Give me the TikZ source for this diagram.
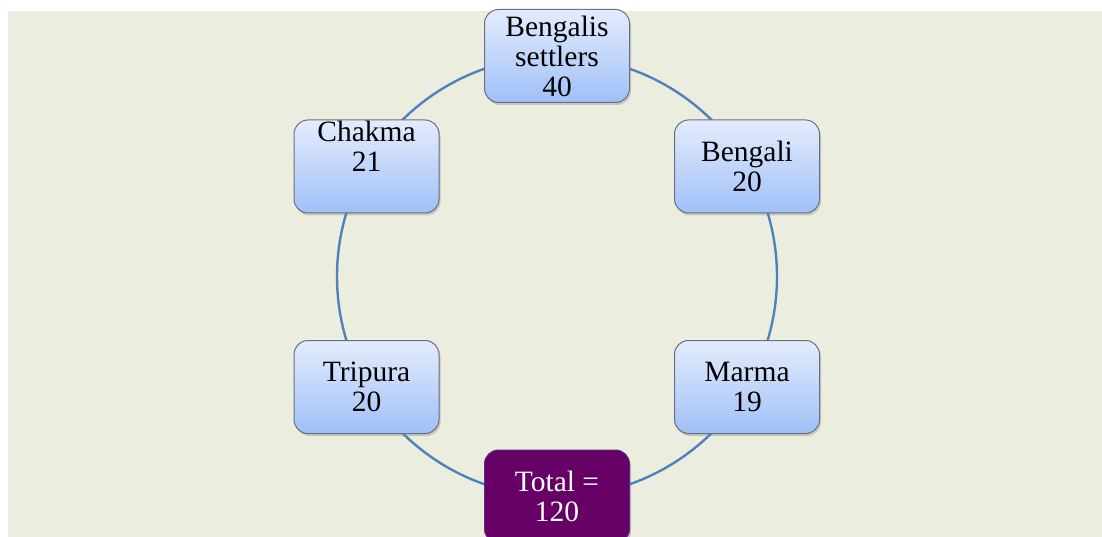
\documentclass[tikz,border=0pt]{standalone}
\usepackage{fontspec}
\setmainfont{Liberation Serif}
\usetikzlibrary{shadows}
\definecolor{backdrop}{RGB}{235, 238, 223}
\definecolor{ring}{RGB}{79, 129, 189}
\definecolor{boxtop}{RGB}{228, 236, 252}
\definecolor{boxbottom}{RGB}{160, 192, 248}
\definecolor{boxedge}{RGB}{105, 112, 130}
\definecolor{plum}{RGB}{102, 0, 102}

\tikzset{
  group/.style={rectangle, rounded corners=14pt, draw=boxedge, line width=1pt,
    minimum width=145pt, minimum height=93pt, inner sep=0pt,
    top color=boxtop, bottom color=boxbottom,
    drop shadow={shadow xshift=1.5pt, shadow yshift=-2.5pt, opacity=0.35}},
  total/.style={group, top color=plum, bottom color=plum, draw=plum!70!ring,
    text=white},
  label/.style={align=center, inner sep=0pt, font=\fontsize{29.5}{30}\selectfont}
}

\begin{document}
\begin{tikzpicture}[x=1pt, y=1pt]
  \useasboundingbox (0, 0) rectangle (1102, -537);
  \clip (0, 0) rectangle (1102, -537);
  \fill[backdrop] (8, -11) rectangle (1102, -537);

  % ring
  \coordinate (hub) at (557, -276.5);
  \draw[ring, line width=2.4pt] (hub) circle (220);

  % groups round the ring
  \foreach \name/\x/\y/\txt in {
      settlers/557/-56/{Bengalis\\settlers\\40},
      bengali/747/-166.5/{Bengali\\20},
      marma/747/-387/{Marma\\19},
      tripura/366.5/-387/{Tripura\\20}} {
    \node[group, label] (\name) at (\x, \y) {\txt};
  };

  % text sits high in this one
  \node[group] (chakma) at (366.5, -166.5) {};
  \node[label] (chakmatxt) at ([yshift=20pt]chakma.center) {Chakma\\21};

  \node[total, label] (sum) at (557, -496.5) {Total =\\120};

\end{tikzpicture}
\end{document}
